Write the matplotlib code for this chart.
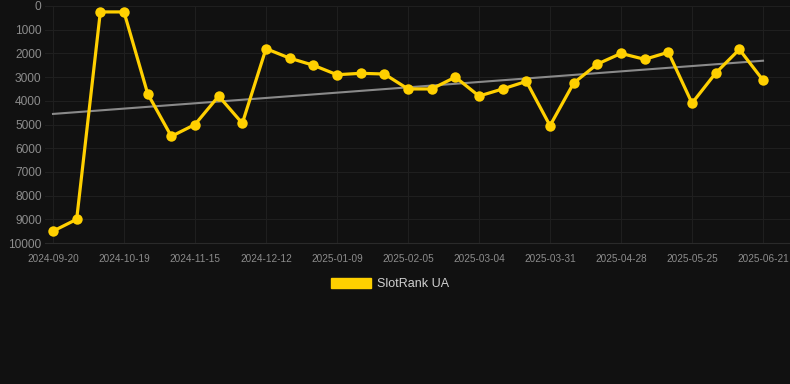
import numpy as np
import matplotlib
matplotlib.use("Agg")
import matplotlib.pyplot as plt
from matplotlib.patches import Patch

# -------------------------------
# DATA (rank, lower is better)
# -------------------------------
ranks = [9500, 9000, 250, 250, 3700, 5500, 5000, 3800, 4950, 1800,
         2200, 2500, 2900, 2840, 2870, 3500, 3500, 3000, 3800, 3500,
         3180, 5050, 3250, 2450, 2000, 2250, 1950, 4100, 2830, 1830,
         3130]
tick_labels = ["2024-09-20", "2024-10-19", "2024-11-15", "2024-12-12",
               "2025-01-09", "2025-02-05", "2025-03-04", "2025-03-31",
               "2025-04-28", "2025-05-25", "2025-06-21"]
y_ticks = [0, 1000, 2000, 3000, 4000, 5000, 6000, 7000, 8000, 9000, 10000]
series_name = "SlotRank UA"

BG = "#111111"
GOLD = "#FFD000"

plt.rcParams["font.family"] = ["Liberation Sans", "DejaVu Sans"]

x = np.arange(len(ranks))

# linear trend over the series
slope, intercept = np.polyfit(x, ranks, 1)
trend = slope * x + intercept

fig = plt.figure(figsize=(7.9, 3.84), dpi=100, facecolor=BG)
ax = fig.add_axes([45 / 790, (384 - 243) / 384, 745 / 790, 237 / 384])
ax.set_facecolor(BG)

ax.plot([x[0], x[-1]], [trend[0], trend[-1]], color="#8a8a8a", lw=1.5, zorder=2)
ax.plot(x, ranks, color=GOLD, lw=2.3, marker="o", markersize=7.5,
        markeredgewidth=0, zorder=3)

ax.set_ylim(10000, 0)
ax.set_xlim(-0.338, 31.14)
ax.set_yticks(y_ticks)
ax.set_yticklabels([str(v) for v in y_ticks])
ax.set_xticks(x[::3])
ax.set_xticklabels(tick_labels)

ax.grid(True, color="#1f1f1f", lw=0.8)
ax.set_axisbelow(True)
for side in ["top", "right", "left"]:
    ax.spines[side].set_visible(False)
ax.spines["bottom"].set_color("#2a2a2a")
ax.tick_params(axis="y", length=0, pad=2.5, labelsize=8.6, labelcolor="#8c8c8c")
ax.tick_params(axis="x", length=0, pad=8, labelsize=7.2, labelcolor="#8c8c8c")

fig.legend(handles=[Patch(facecolor=GOLD, edgecolor=GOLD)], labels=[series_name],
           loc="center", bbox_to_anchor=(390 / 790, 1 - 284 / 384),
           frameon=False, fontsize=9, labelcolor="#d0d0d0",
           handlelength=3.2, handleheight=0.9, handletextpad=0.5)

fig.savefig("out.png", dpi=100, facecolor=BG)
